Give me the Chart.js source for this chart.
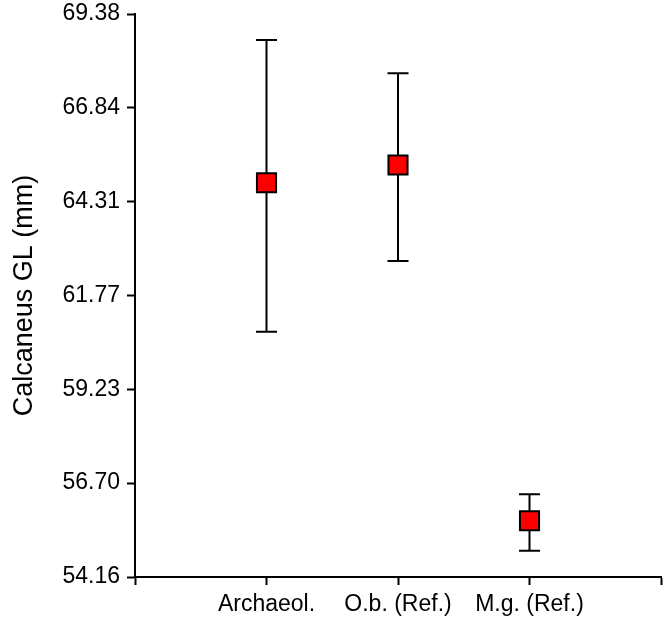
<!DOCTYPE html>
<html>
<head>
<meta charset="utf-8">
<script src="https://cdn.jsdelivr.net/npm/chart.js@4"></script>
<style>
  html, body { margin: 0; padding: 0; background: #fff; }
  canvas { display: block; }
</style>
</head>
<body>
<canvas id="chart" width="664" height="622"></canvas>
<script>
// data
const categories = ["Archaeol.", "O.b. (Ref.)", "M.g. (Ref.)"];
const means = [64.82, 65.30, 55.68];
const upper = [68.68, 67.78, 56.40];
const lower = [60.79, 62.70, 54.87];
const yTicks = [54.16, 56.70, 59.23, 61.77, 64.31, 66.84, 69.38];
const xTicks = [0, 1, 2, 3, 4];

const fontFamily = "'Liberation Sans', Arial, sans-serif";

// whiskers drawn under the squares
const errorBars = {
  id: "errorBars",
  beforeDatasetsDraw(chart) {
    const ctx = chart.ctx;
    const x = chart.scales.x;
    const y = chart.scales.y;
    ctx.save();
    ctx.strokeStyle = "#000";
    ctx.lineWidth = 2;
    categories.forEach((c, i) => {
      const px = x.getPixelForValue(i + 1);
      const top = y.getPixelForValue(upper[i]);
      const bot = y.getPixelForValue(lower[i]);
      ctx.beginPath();
      ctx.moveTo(px, top);
      ctx.lineTo(px, bot);
      ctx.moveTo(px - 10.5, top);
      ctx.lineTo(px + 10.5, top);
      ctx.moveTo(px - 10.5, bot);
      ctx.lineTo(px + 10.5, bot);
      ctx.stroke();
    });
    ctx.restore();
  }
};

// stop the tick labels from pushing the plot area inwards
function noPad(scale) {
  scale.paddingTop = 0;
  scale.paddingBottom = 0;
  scale.paddingLeft = 0;
  scale.paddingRight = 0;
}

new Chart(document.getElementById("chart"), {
  type: "scatter",
  data: {
    datasets: [
      {
        data: categories.map((c, i) => ({ x: i + 1, y: means[i] })),
        pointStyle: "rect",
        pointRadius: 13.5,
        pointHoverRadius: 13.5,
        backgroundColor: "#ff0000",
        borderColor: "#000",
        borderWidth: 2,
      },
    ],
  },
  options: {
    responsive: false,
    animation: false,
    events: [],
    layout: { autoPadding: false, padding: { top: 14, right: 3, left: 0, bottom: 0 } },
    plugins: {
      legend: { display: false },
      tooltip: { enabled: false },
    },
    scales: {
      x: {
        type: "linear",
        min: 0,
        max: 4,
        afterBuildTicks: (scale) => {
          scale.ticks = xTicks.map((v) => ({ value: v }));
        },
        afterFit: (scale) => {
          scale.height = 45;
          noPad(scale);
        },
        ticks: {
          autoSkip: false,
          maxRotation: 0,
          padding: 6,
          color: "#000",
          font: { family: fontFamily, size: 23 },
          callback: (v) => categories[v - 1] || "",
        },
        grid: {
          drawOnChartArea: false,
          drawTicks: true,
          tickLength: 8,
          tickWidth: 2,
          color: "#000",
        },
        border: { display: true, color: "#000", width: 2 },
      },
      y: {
        type: "linear",
        min: yTicks[0],
        max: yTicks[yTicks.length - 1],
        afterBuildTicks: (scale) => {
          scale.ticks = yTicks.map((v) => ({ value: v }));
        },
        afterFit: (scale) => {
          scale.width = 135;
          noPad(scale);
        },
        ticks: {
          padding: 7,
          color: "#000",
          font: { family: fontFamily, size: 23 },
          callback: (v) => Number(v).toFixed(2),
        },
        grid: {
          drawOnChartArea: false,
          drawTicks: true,
          tickLength: 8,
          tickWidth: 2,
          color: "#000",
        },
        border: { display: true, color: "#000", width: 2 },
        title: {
          display: true,
          text: "Calcaneus GL (mm)",
          color: "#000",
          font: { family: fontFamily, size: 27 },
          padding: { top: 8, bottom: 0 },
        },
      },
    },
  },
  plugins: [errorBars],
});
</script>
</body>
</html>
